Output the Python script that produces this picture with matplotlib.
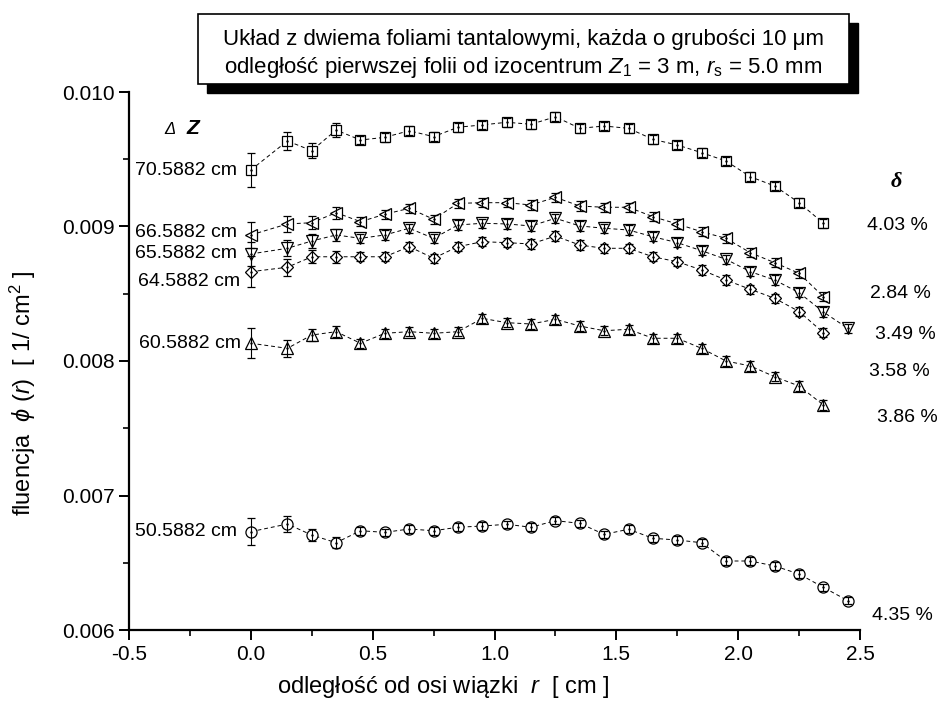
import numpy as np
import matplotlib.pyplot as plt
from matplotlib.patches import Rectangle
from matplotlib.ticker import MultipleLocator, FormatStrFormatter

plt.rcParams['font.family'] = ['Liberation Sans', 'DejaVu Sans']
plt.rcParams['mathtext.fontset'] = 'custom'
plt.rcParams['mathtext.rm'] = 'Liberation Sans'
plt.rcParams['mathtext.it'] = 'Liberation Sans:italic'
plt.rcParams['mathtext.bf'] = 'Liberation Sans:bold'

#---------data---------------------------------------------
r = [0.0, 0.15, 0.25, 0.35, 0.45, 0.55, 0.65, 0.75, 0.85, 0.95, 1.05, 1.15,
     1.25, 1.35, 1.45, 1.55, 1.65, 1.75, 1.85, 1.95, 2.05, 2.15, 2.25, 2.35]
r_long = r + [2.45]

phi_70 = [0.009420, 0.009636, 0.009564, 0.009717, 0.009643, 0.009663, 0.009712, 0.009668,
          0.009738, 0.009755, 0.009775, 0.009760, 0.009816, 0.009730, 0.009747, 0.009730,
          0.009648, 0.009606, 0.009549, 0.009487, 0.009370, 0.009301, 0.009177, 0.009024]
phi_66 = [0.008937, 0.009019, 0.009028, 0.009103, 0.009036, 0.009091, 0.009135, 0.009054,
          0.009172, 0.009177, 0.009177, 0.009160, 0.009217, 0.009152, 0.009143, 0.009143,
          0.009073, 0.009019, 0.008961, 0.008912, 0.008805, 0.008731, 0.008652, 0.008478]
phi_65 = [0.008796, 0.008838, 0.008892, 0.008937, 0.008912, 0.008937, 0.008987, 0.008912,
          0.009011, 0.009024, 0.009019, 0.009004, 0.009061, 0.009004, 0.008987, 0.008974,
          0.008924, 0.008880, 0.008820, 0.008756, 0.008664, 0.008602, 0.008508, 0.008364,
          0.008243]
phi_64 = [0.008664, 0.008697, 0.008775, 0.008775, 0.008775, 0.008775, 0.008850, 0.008764,
          0.008850, 0.008887, 0.008880, 0.008870, 0.008929, 0.008862, 0.008838, 0.008838,
          0.008775, 0.008738, 0.008677, 0.008602, 0.008533, 0.008466, 0.008368, 0.008210]
phi_60 = [0.008132, 0.008094, 0.008193, 0.008218, 0.008132, 0.008206, 0.008218, 0.008206,
          0.008218, 0.008317, 0.008285, 0.008275, 0.008310, 0.008260, 0.008225, 0.008236,
          0.008169, 0.008169, 0.008094, 0.008000, 0.007963, 0.007883, 0.007814, 0.007673]
phi_50 = [0.006731, 0.006788, 0.006706, 0.006649, 0.006738, 0.006726, 0.006751, 0.006738,
          0.006764, 0.006773, 0.006786, 0.006764, 0.006813, 0.006793, 0.006711, 0.006749,
          0.006682, 0.006669, 0.006649, 0.006513, 0.006513, 0.006476, 0.006416, 0.006317,
          0.006218]

err_70 = [0.000124, 0.000068, 0.000056, 0.000050] + [0.000033] * 20
err_66 = [0.000100, 0.000060, 0.000050, 0.000045] + [0.000035] * 20
err_65 = [0.000090, 0.000060, 0.000050, 0.000045] + [0.000035] * 21
err_64 = [0.000116, 0.000065, 0.000050, 0.000045] + [0.000035] * 20
err_60 = [0.000110, 0.000065, 0.000045, 0.000040] + [0.000035] * 20
err_50 = [0.000100, 0.000060, 0.000045, 0.000040] + [0.000028] * 21

dz_labels = ['70.5882 cm', '66.5882 cm', '65.5882 cm', '64.5882 cm', '60.5882 cm', '50.5882 cm']
delta_labels = ['4.03 %', '2.84 %', '3.49 %', '3.58 %', '3.86 %', '4.35 %']

series = [(r, phi_70, err_70, 's', 7.2),
          (r, phi_66, err_66, '<', 9.0),
          (r_long, phi_65, err_65, 'v', 9.0),
          (r, phi_64, err_64, 'D', 6.6),
          (r, phi_60, err_60, '^', 9.0),
          (r_long, phi_50, err_50, 'o', 8.0)]
label_dx = [-10, -10, -10, -8, -7, -10]  # points
label_dy = [0, 2, 0, -7, 0, 0]
delta_y_px = [225, 293, 335, 372, 417, 615]
delta_x_px = [897, 900, 905, 899, 907, 902]

fig = plt.figure(figsize=(9.39, 7.13), dpi=100)
W, H = 939.0, 713.0
ax = fig.add_axes([129 / W, 1 - 630 / H, (860 - 129) / W, (630 - 92) / H])

for (x, y, e, m, ms), lab, dx, dy in zip(series, dz_labels, label_dx, label_dy):
    ax.errorbar(x, y, yerr=e, fmt=m, ls=(0, (4, 3)), lw=0.7, color='k', mfc='white',
                mec='k', mew=0.9, ms=ms, ecolor='k', elinewidth=0.8, capsize=3.2,
                capthick=0.8, barsabove=True)
    ax.plot(x, y, ls='none', marker='.', ms=1.5, color='k', zorder=5)
    ax.annotate(lab, xy=(x[0], y[0]), xytext=(dx, dy), textcoords='offset points',
                ha='right', va='center', fontsize=14)

ax.set_xlim(-0.5, 2.5)
ax.set_ylim(0.006, 0.010)
ax.xaxis.set_major_locator(MultipleLocator(0.5))
ax.xaxis.set_minor_locator(MultipleLocator(0.25))
ax.yaxis.set_major_locator(MultipleLocator(0.001))
ax.yaxis.set_minor_locator(MultipleLocator(0.0005))
ax.xaxis.set_major_formatter(FormatStrFormatter('%.1f'))
ax.yaxis.set_major_formatter(FormatStrFormatter('%.3f'))
for s in ['top', 'right']:
    ax.spines[s].set_visible(False)
for s in ['left', 'bottom']:
    ax.spines[s].set_linewidth(1.6)
ax.tick_params(which='major', direction='out', length=7, width=1.4, labelsize=15)
ax.tick_params(which='minor', direction='out', length=4, width=1.2)

ax.set_xlabel(r'odległość od osi wiązki  $r$  [ cm ]', fontsize=17)
ax.set_ylabel(r'fluencja  $\phi$ ($r$)  [ 1/ cm$^2$ ]', fontsize=17)
ax.xaxis.set_label_coords(0.43, -0.082)
ax.yaxis.set_label_coords(-0.125, 0.44)

# Delta Z header
fig.text(170 / W, 1 - 129 / H, '\u0394', fontsize=12, style='italic', ha='center', va='center')
fig.text(193 / W, 1 - 128 / H, 'Z', fontsize=15, style='italic', weight='bold',
         ha='center', va='center')

# delta column on the right
fig.text(896 / W, 1 - 182 / H, '\u03b4', fontsize=16, style='italic', weight='bold',
         family='Liberation Serif', ha='center', va='center')
for lab, xp, yp in zip(delta_labels, delta_x_px, delta_y_px):
    fig.text(xp / W, 1 - yp / H, lab, fontsize=14, ha='center', va='center')

# title box with shadow
bx0, bx1, by0, by1 = 198, 849, 14, 84
fig.patches.append(Rectangle(((bx0 + 9) / W, 1 - (by1 + 9) / H), (bx1 - bx0) / W,
                             (by1 - by0) / H, transform=fig.transFigure, fc='k', ec='k'))
fig.patches.append(Rectangle((bx0 / W, 1 - by1 / H), (bx1 - bx0) / W, (by1 - by0) / H,
                             transform=fig.transFigure, fc='white', ec='k', lw=1.2))
cx = (bx0 + bx1) / 2 / W
fig.text(cx, 1 - 40 / H, 'Układ z dwiema foliami tantalowymi, każda o grubości 10 \u03bcm',
         fontsize=16, ha='center', va='center')
fig.text(cx, 1 - 68 / H,
         r'odległość pierwszej folii od izocentrum $Z_1$ = 3 m, $r_\mathrm{s}$ = 5.0 mm',
         fontsize=16, ha='center', va='center')

fig.savefig('out.png', dpi=100)
